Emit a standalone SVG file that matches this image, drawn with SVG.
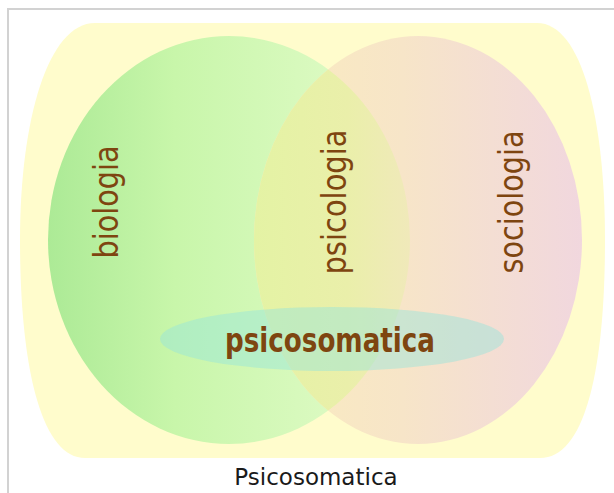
<svg xmlns="http://www.w3.org/2000/svg" width="614" height="493" viewBox="0 0 614 493">
  <style>
    .lbl { font-family: "DejaVu Sans", "Liberation Sans", sans-serif; fill: #7e4510; text-anchor: middle; }
    .cap { font-family: "DejaVu Sans", "Liberation Sans", sans-serif; fill: #1a1a1a; text-anchor: middle; font-size: 23px; }
  </style>
  <defs>
    <linearGradient id="gGreen" gradientUnits="userSpaceOnUse" x1="48" y1="0" x2="410" y2="0">
      <stop offset="0" stop-color="#acea96"/>
      <stop offset="0.35" stop-color="#c8f6aa"/>
      <stop offset="0.8" stop-color="#dcfac2"/>
      <stop offset="1" stop-color="#e0f9c6"/>
    </linearGradient>
    <linearGradient id="gRight" gradientUnits="userSpaceOnUse" x1="255" y1="0" x2="582" y2="0">
      <stop offset="0" stop-color="#faecbe"/>
      <stop offset="0.45" stop-color="#f7e5c8"/>
      <stop offset="1" stop-color="#f1d7de"/>
    </linearGradient>
    <linearGradient id="gLens" gradientUnits="userSpaceOnUse" x1="255" y1="0" x2="410" y2="0">
      <stop offset="0" stop-color="#e4f3a4"/>
      <stop offset="0.6" stop-color="#eaefaa"/>
      <stop offset="1" stop-color="#f0e9ba"/>
    </linearGradient>
    <clipPath id="clipGreen">
      <ellipse cx="229" cy="240" rx="181" ry="204"/>
    </clipPath>
  </defs>

  <g id="frame">
    <path d="M8 493 V9 H614" fill="none" stroke="#d2d2d2" stroke-width="2"/>
  </g>

  <g id="background">
    <path d="M95 23 L537 23 C582 23 605 120 605 240 C605 370 585 458 540 458 L85 458 C42 458 20 370 20 240 C20 120 48 23 95 23 Z" fill="#fffccc"/>
  </g>

  <g id="biologia">
    <ellipse cx="229" cy="240" rx="181" ry="204" fill="url(#gGreen)"/>
  </g>

  <g id="sociologia">
    <ellipse cx="418" cy="240" rx="164" ry="204" fill="url(#gRight)"/>
  </g>

  <g id="psicologia">
    <ellipse cx="418" cy="240" rx="164" ry="204" fill="url(#gLens)" clip-path="url(#clipGreen)"/>
  </g>

  <g id="psicosomatica">
    <ellipse cx="332" cy="339" rx="172" ry="32" fill="#94e4dc" fill-opacity="0.45"/>
  </g>

  <g id="labels">
    <text class="lbl" font-size="33" transform="translate(118 202) rotate(-90)" textLength="113" lengthAdjust="spacingAndGlyphs">biologia</text>
    <text class="lbl" font-size="33" transform="translate(346 202) rotate(-90)" textLength="145" lengthAdjust="spacingAndGlyphs">psicologia</text>
    <text class="lbl" font-size="33" transform="translate(523 202) rotate(-90)" textLength="143" lengthAdjust="spacingAndGlyphs">sociologia</text>
    <text class="lbl" font-size="34" font-weight="bold" x="330" y="352" textLength="210" lengthAdjust="spacingAndGlyphs">psicosomatica</text>
  </g>

  <g id="caption">
    <text class="cap" x="316" y="485">Psicosomatica</text>
  </g>
</svg>
